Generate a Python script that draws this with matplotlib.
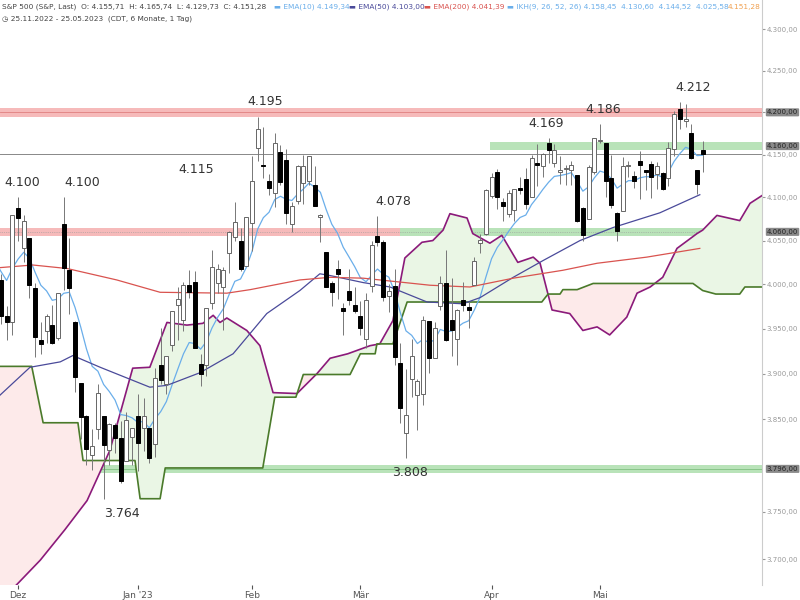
import numpy as np
import pandas as pd
import matplotlib
matplotlib.use("Agg")
import matplotlib.pyplot as plt
from matplotlib.ticker import FixedLocator, NullLocator

# ---------------- data ----------------
opens = [4023,4005,3964,3958,4087,4041,4053,3996,3937,3947,3954,3940,4069,4016,3958,3890,3853,3811,3839,3853,
         3816,3843,3829,3805,3830,3853,3840,3840,3823,3910,3888,3932,3977,3960,3999,4003,3911,3910,3979,4001,
         3997,4036,4054,4049,4021,4070,4158,4137,4119,4105,4153,4144,4069,4096,4117,4119,4114,4077,4037,4001,
         4018,3973,3993,3977,3964,3938,3998,4055,4048,3987,3998,3912,3835,3894,3876,3878,3959,3917,3975,4002,
         3960,3939,3982,3974,3999,4047,4057,4102,4129,4094,4081,4085,4111,4121,4100,4140,4137,4164,4140,4130,
         4133,4132,4126,4088,4075,4129,4166,4164,4122,4082,4084,4136,4125,4143,4132,4139,4127,4128,4123,4157,
         4204,4190,4176,4132,4155]
highs = [4034,4012,3976,4080,4100,4080,4053,4002,3957,3966,3977,3990,4100,4053,3959,3890,3854,3839,3888,3853,
         3846,3846,3848,3858,3840,3878,3873,3840,3906,3951,3920,3970,3997,4003,4016,4015,3922,3973,4039,4023,
         4020,4061,4095,4064,4077,4148,4195,4182,4127,4176,4161,4157,4095,4138,4149,4148,4137,4081,4037,4004,
         4028,3979,4018,3997,3981,3990,4049,4078,4051,4000,4017,3934,3905,3938,3894,3964,3959,3957,4009,4039,
         4007,3972,4003,3980,4031,4057,4110,4128,4133,4099,4108,4109,4124,4134,4150,4163,4152,4169,4162,4148,
         4138,4143,4126,4089,4138,4170,4186,4164,4149,4083,4147,4142,4131,4154,4132,4143,4141,4130,4165,4202,
         4212,4210,4186,4132,4166]
lows = [4020,3955,3937,3943,4050,4026,3984,3918,3922,3934,3933,3937,3994,3966,3880,3828,3800,3795,3828,3764,
        3800,3813,3781,3805,3800,3794,3815,3802,3809,3888,3877,3925,3937,3947,3984,3928,3886,3897,3972,3990,
        3949,4013,4049,4015,4021,4038,4142,4123,4103,4089,4114,4069,4060,4092,4092,4114,4092,4048,3997,3976,
        3983,3943,3977,3968,3943,3928,3991,4044,3981,3969,3909,3846,3808,3874,3838,3865,3901,3917,3971,3936,
        3919,3909,3970,3951,3999,4036,4056,4099,4086,4073,4077,4072,4104,4086,4100,4113,4124,4140,4135,4115,
        4114,4114,4071,4050,4075,4127,4164,4100,4088,4049,4084,4124,4111,4098,4109,4099,4110,4109,4113,4148,
        4180,4183,4145,4104,4130]
closes = [4026,3964,3958,4080,4076,4072,3999,3941,3933,3964,3934,3990,4019,3996,3896,3852,3818,3821,3879,3822,
          3845,3829,3783,3849,3840,3824,3853,3808,3895,3893,3919,3970,3983,3999,3991,3928,3899,3973,4020,4017,
          4016,4060,4071,4018,4077,4119,4180,4136,4111,4164,4118,4082,4090,4137,4136,4148,4090,4079,3997,3991,
          4012,3970,3982,3970,3951,3982,4045,4048,3986,3992,3918,3862,3855,3920,3892,3960,3917,3951,4002,3937,
          3949,3971,3977,3971,4027,4051,4109,4124,4100,4090,4105,4110,4108,4092,4146,4138,4151,4155,4155,4130,
          4133,4138,4072,4056,4135,4169,4167,4119,4091,4061,4136,4138,4119,4138,4130,4124,4136,4110,4158,4198,
          4192,4192,4146,4115,4151]

month_labels = ["Dez", "Jan '23", "Feb", "Mär", "Apr", "Mai"]
month_idx = [4, 25, 45, 64, 87, 106]

ema50_x = [0.8, 6.1, 11.4, 13.6, 18.4, 27.1, 30.1, 35.9, 41.7, 47.6, 53.4, 56.9, 58.7, 64.5, 69.2, 75.7, 82, 85,
           90.8, 96, 102.5, 108.3, 116.5, 123.5]
ema50_v = [3876, 3907, 3913, 3920, 3907, 3885, 3887, 3901, 3922, 3967, 3993, 4012, 4010, 4002, 3997, 3980, 3978, 3985,
           4008, 4027, 4050, 4065, 4082, 4103]
ema200_x = [0.8, 6.6, 12.6, 21.3, 28.9, 40.6, 44.7, 53.4, 58.7, 64.5, 76.2, 83.2, 90.8, 99.5, 105.5, 114.2, 123.5]
ema200_v = [4019, 4022, 4018, 4005, 3991, 3990, 3994, 4005, 4008, 4007, 3999, 3997, 4007, 4016, 4024, 4031, 4041]

spanB_x = [0.8, 6.4, 8.4, 14.5, 15.4, 24.5, 25.4, 28.9, 29.8, 46.9, 49, 52.7, 54, 62.2, 64, 66.6, 66.9, 69.7, 72.2,
           95.8, 96.9, 99, 99.5, 102, 104.8, 122.3, 124, 126.3, 130.5, 131.4, 134.4]
spanB_v = [3908, 3908, 3846, 3846, 3805, 3805, 3764, 3764, 3797, 3797, 3874, 3874, 3899, 3899, 3922, 3922, 3933, 3933,
           3980, 3980, 3989, 3989, 3994, 3994, 4001, 4001, 3993, 3989, 3989, 3997, 3997]
spanA_x = [0.8, 2.9, 7.9, 12.2, 16.1, 20.1, 24.1, 27.1, 30.1, 33.6, 36.4, 38.2, 39.4, 40.6, 44.1, 46.4, 48.7, 52.9,
           56.4, 58.7, 61.8, 65.7, 67.4, 69.7, 71.8, 74.8, 76.7, 78.5, 79.7, 82.7, 83.7, 86.7, 88.8, 91.6, 94.3,
           95.5, 97.6, 100.7, 103, 105.5, 107.7, 110.7, 112.5, 114.8, 117, 119.5, 123, 124, 126.5, 130.5, 132.3, 134.4]
spanA_v = [3650, 3668, 3699, 3731, 3762, 3816, 3906, 3907, 3957, 3954, 3956, 3965, 3957, 3962, 3948, 3931, 3879, 3878,
           3900, 3917, 3922, 3931, 3933, 3959, 4030, 4048, 4050, 4062, 4081, 4076, 4058, 4047, 4056, 4025, 4031,
           4024, 3971, 3967, 3948, 3952, 3943, 3963, 3990, 3997, 4008, 4041, 4058, 4062, 4079, 4073, 4093, 4102]

peak_labels = ["4.100", "4.100", "4.115", "4.195", "4.078", "4.169", "4.186", "4.212"]
peak_idx = [4.7, 15.2, 35.2, 47.3, 69.7, 96.5, 106.5, 122.3]
peak_val = [4100, 4100, 4115, 4195, 4078, 4169, 4186, 4212]
trough_labels = ["3.764", "3.808"]
trough_idx = [22.2, 72.7]
trough_val = [3764, 3808]

marked_levels = [4200, 4160, 4060, 3796]
yticks = [3700, 3750, 3850, 3900, 3950, 4000, 4050, 4100, 4150, 4200, 4250, 4300]

def fmt(v):
    return f"{v:,.2f}".replace(",", "X").replace(".", ",").replace("X", ".")

# ---------------- figure ----------------
fig = plt.figure(figsize=(8, 6), dpi=100)
ax = fig.add_axes([0, 0.025, 0.9525, 0.975])
ax.set_yscale("log")
ax.set_xlim(0.84, 134.4)
ax.set_ylim(3673, 4336)

# bands
ax.axhspan(4195, 4205, color="#f4a3a3", alpha=0.75, lw=0, zorder=1)
ax.axhline(4200, color="#e08080", lw=0.6, zorder=1)
ax.axhspan(3792, 3800, color="#a8dca8", alpha=0.8, lw=0, zorder=1)
ax.axhline(3796, color="#80c080", lw=0.6, zorder=1)
xr = 70.9
ax.fill_between([0.84, xr], 4055, 4065, color="#f4a3a3", alpha=0.75, lw=0, zorder=1)
ax.fill_between([xr, 134.4], 4055, 4065, color="#a8dca8", alpha=0.8, lw=0, zorder=1)
ax.axhline(4060, color="#999999", lw=0.5, ls=":", zorder=1)
ax.fill_between([86.7, 134.4], 4155, 4165, color="#a8dca8", alpha=0.8, lw=0, zorder=1)
ax.axhline(closes[-1], color="#888888", lw=0.7, zorder=1)

# ichimoku cloud
grid = np.linspace(0.84, 134.4, 1500)
a = np.interp(grid, spanA_x, spanA_v)
b = np.interp(grid, spanB_x, spanB_v)
ax.fill_between(grid, a, b, where=a >= b, interpolate=True, color="#eaf6e5", lw=0, zorder=1.5)
ax.fill_between(grid, a, b, where=a < b, interpolate=True, color="#fdeaea", lw=0, zorder=1.5)
ax.plot(spanA_x, spanA_v, color="#8b1a7a", lw=1.2, zorder=2)
ax.plot(spanB_x, spanB_v, color="#4a7a2a", lw=1.2, zorder=2)

# moving averages
n = len(closes)
idx = np.arange(n)
ema10 = pd.Series(closes).ewm(span=10, adjust=False).mean()
ax.plot(idx, ema10, color="#6aaeea", lw=0.9, zorder=3)
ax.plot(ema50_x, ema50_v, color="#4a4a9a", lw=0.9, zorder=3)
ax.plot(ema200_x, ema200_v, color="#d9534f", lw=0.9, zorder=3)

# candles
w = 0.7
for i in range(n):
    o, h, l, c = opens[i], highs[i], lows[i], closes[i]
    ax.vlines(i, l, h, color="#777777", lw=0.7, zorder=4)
    lo, hi = min(o, c), max(o, c)
    if hi - lo < 1.5:
        hi = lo + 1.5
    if c >= o:
        ax.add_patch(plt.Rectangle((i - w / 2, lo), w, hi - lo, facecolor="white",
                                   edgecolor="#666666", lw=0.7, zorder=5))
    else:
        ax.add_patch(plt.Rectangle((i - w / 2, lo), w, hi - lo, facecolor="black",
                                   edgecolor="black", lw=0.7, zorder=5))

# annotations
for t, xi, v in zip(peak_labels, peak_idx, peak_val):
    ax.annotate(t, (xi, v), xytext=(0, 6), textcoords="offset points", ha="center",
                va="bottom", fontsize=9, color="#333333", zorder=6)
for t, xi, v in zip(trough_labels, trough_idx, trough_val):
    ax.annotate(t, (xi, v), xytext=(0, -6), textcoords="offset points", ha="center",
                va="top", fontsize=9, color="#333333", zorder=6)

# axes styling
for s in ["top", "left", "bottom"]:
    ax.spines[s].set_visible(False)
ax.spines["right"].set_color("#cccccc")
ax.yaxis.tick_right()
ax.yaxis.set_major_locator(FixedLocator(yticks))
ax.yaxis.set_minor_locator(NullLocator())
ax.set_yticklabels([fmt(v) for v in yticks])
ax.tick_params(axis="y", labelsize=5.0, colors="#999999", length=2, pad=1.5)
ax.set_xticks(month_idx)
ax.set_xticklabels(month_labels)
ax.tick_params(axis="x", labelsize=6.5, colors="#555555", length=3, pad=1)
for lv in marked_levels:
    ax.annotate(fmt(lv), xy=(1.0, lv), xycoords=("axes fraction", "data"), xytext=(3.5, 0),
                textcoords="offset points", ha="left", va="center", fontsize=5.0, color="#222222",
                bbox=dict(boxstyle="round,pad=0.15", fc="#8a8a8a", ec="none"), zorder=10,
                annotation_clip=False)

# header
fs = 5.3
fig.text(0.003, 0.988, "S&P 500 (S&P, Last)  O: 4.155,71  H: 4.165,74  L: 4.129,73  C: 4.151,28",
         fontsize=fs, color="#444444", va="center")
items = [("▬ EMA(10) ", "4.149,34", "#6aaeea", 0.342),
         ("▬ EMA(50) ", "4.103,00", "#4a4a9a", 0.436),
         ("▬ EMA(200) ", "4.041,39", "#d9534f", 0.530)]
for lab, val, col, xp in items:
    fig.text(xp, 0.988, lab + val, fontsize=fs, color=col, va="center")
fig.text(0.634, 0.988, "▬ IKH(9, 26, 52, 26) 4.158,45  4.130,60  4.144,52  4.025,58",
         fontsize=fs, color="#6aaeea", va="center")
fig.text(0.910, 0.988, "4.151,28", fontsize=fs, color="#f0a050", va="center")
fig.text(0.003, 0.968, "◷ 25.11.2022 - 25.05.2023  (CDT, 6 Monate, 1 Tag)",
         fontsize=fs, color="#444444", va="center")

fig.savefig("out.png", dpi=100)
